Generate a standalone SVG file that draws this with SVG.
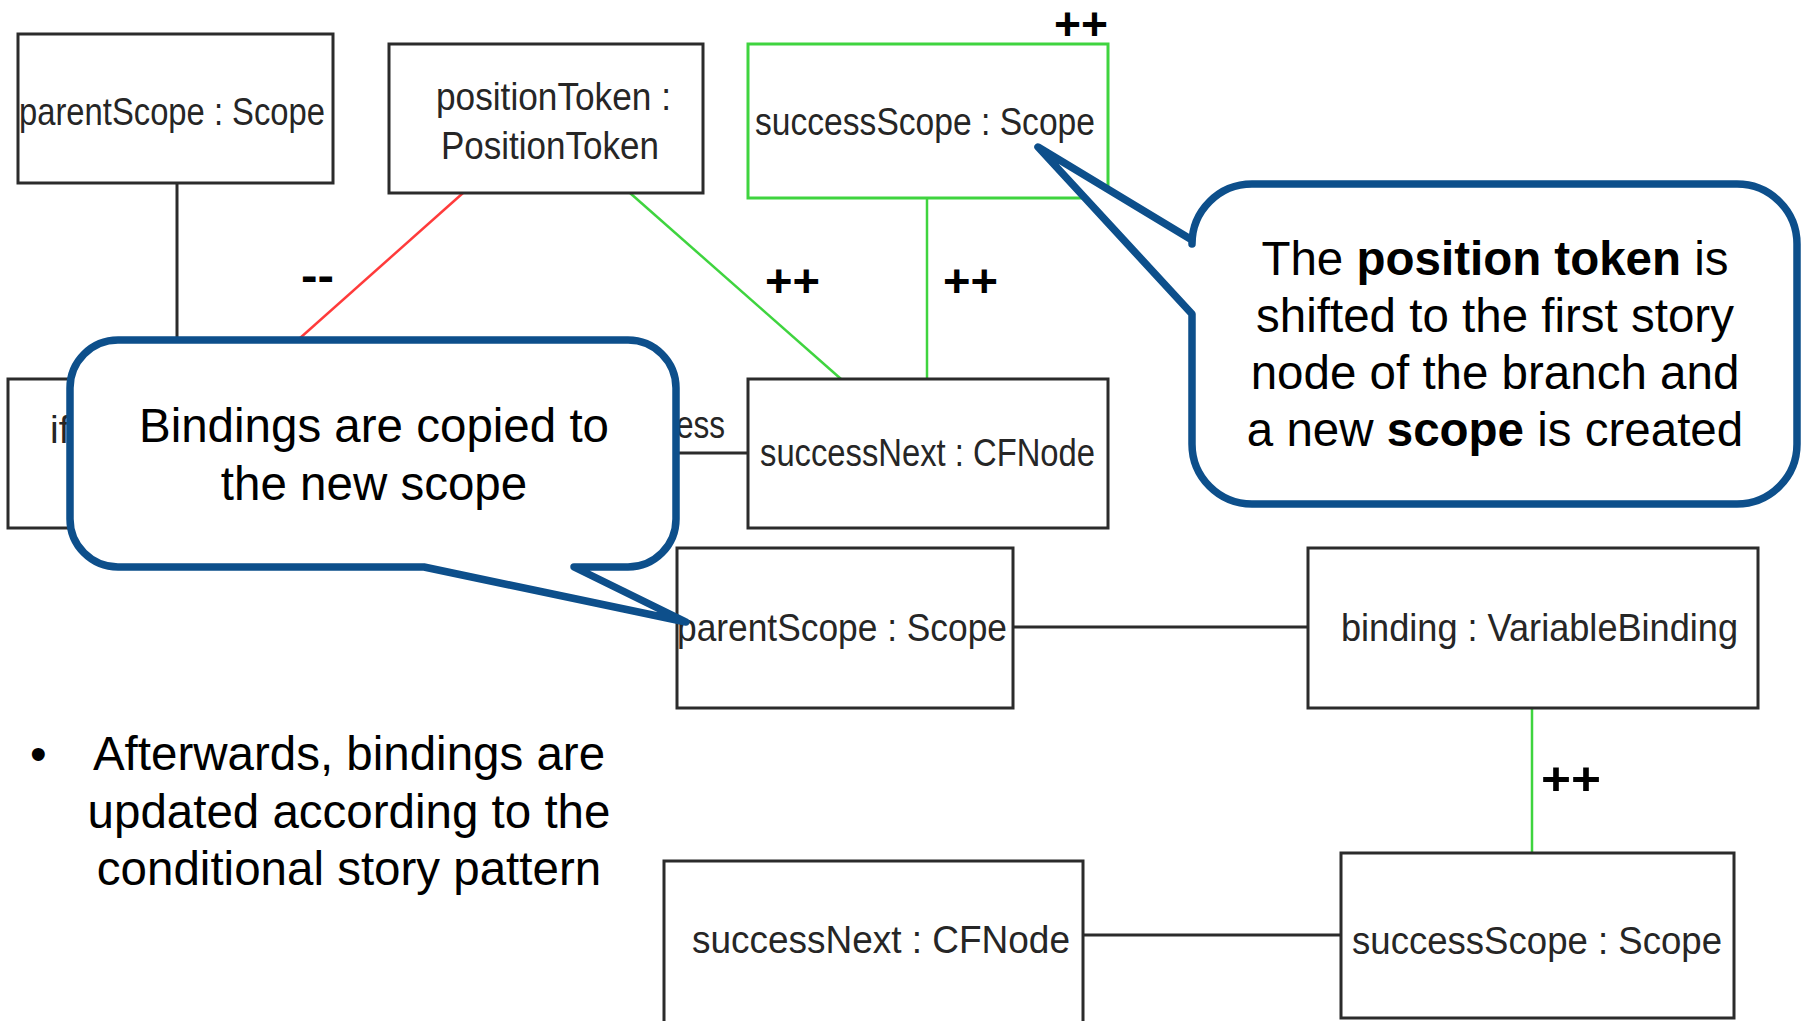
<svg xmlns="http://www.w3.org/2000/svg" width="1803" height="1021" viewBox="0 0 1803 1021">
<style>
.box{fill:#fff;stroke:#2b2b2b;stroke-width:3}
.gbox{fill:#fff;stroke:#3fd43f;stroke-width:3}
.nt{font-family:"Liberation Sans",Arial,sans-serif;font-size:39px;fill:#262626}
.blk{stroke:#2b2b2b;stroke-width:3;fill:none}
.grn{stroke:#3fd43f;stroke-width:2.5;fill:none}
.red{stroke:#ff3b3b;stroke-width:2.5;fill:none}
.mk{font-family:"Liberation Sans",Arial,sans-serif;font-size:46px;font-weight:bold;fill:#000}
.call{fill:#fff;stroke:#0d4f8b;stroke-width:7.5;stroke-linejoin:round}
.ct{font-family:"Liberation Sans",Arial,sans-serif;font-size:47.5px;fill:#000;text-anchor:middle}
</style>
<rect width="1803" height="1021" fill="#fff"/>
<g id="connectors">
<line class="blk" x1="177" y1="183" x2="177" y2="379"/>
<line class="red" x1="463" y1="193" x2="254" y2="379"/>
<line class="grn" x1="630" y1="193" x2="841" y2="379"/>
<line class="grn" x1="927" y1="198" x2="927" y2="379"/>
<line class="blk" x1="333" y1="453" x2="748" y2="453"/>
<line class="blk" x1="1013" y1="627" x2="1308" y2="627"/>
<line class="grn" x1="1532" y1="708" x2="1532" y2="853"/>
<line class="blk" x1="1083" y1="935" x2="1341" y2="935"/>
<text class="nt" x="725" y="438" text-anchor="end" textLength="114" lengthAdjust="spacingAndGlyphs">success</text>
<text class="mk" x="301" y="291" font-size="42" textLength="33" lengthAdjust="spacingAndGlyphs">--</text>
<text class="mk" x="765" y="297" textLength="55" lengthAdjust="spacingAndGlyphs">++</text>
<text class="mk" x="943" y="297" textLength="55" lengthAdjust="spacingAndGlyphs">++</text>
<text class="mk" x="1054" y="40" font-size="44" textLength="54" lengthAdjust="spacingAndGlyphs">++</text>
<text class="mk" x="1541" y="795" textLength="60" lengthAdjust="spacingAndGlyphs">++</text>
</g>
<g id="parentScope1">
<rect class="box" x="18" y="34" width="315" height="149"/>
<text class="nt" x="19" y="125" textLength="306" lengthAdjust="spacingAndGlyphs">parentScope : Scope</text>
</g>
<g id="positionToken">
<rect class="box" x="389" y="44" width="314" height="149"/>
<text class="nt" x="436" y="110" textLength="235" lengthAdjust="spacingAndGlyphs">positionToken :</text>
<text class="nt" x="441" y="159" textLength="218" lengthAdjust="spacingAndGlyphs">PositionToken</text>
</g>
<g id="successScope1">
<rect class="gbox" x="748" y="44" width="360" height="154"/>
<text class="nt" x="755" y="135" textLength="340" lengthAdjust="spacingAndGlyphs">successScope : Scope</text>
</g>
<g id="ifNode">
<rect class="box" x="8" y="379" width="325" height="149"/>
<text class="nt" x="50" y="443">if</text>
</g>
<g id="successNext1">
<rect class="box" x="748" y="379" width="360" height="149"/>
<text class="nt" x="760" y="466" textLength="335" lengthAdjust="spacingAndGlyphs">successNext : CFNode</text>
</g>
<g id="parentScope2">
<rect class="box" x="677" y="548" width="336" height="160"/>
<text class="nt" x="677" y="641" textLength="330" lengthAdjust="spacingAndGlyphs">parentScope : Scope</text>
</g>
<g id="binding">
<rect class="box" x="1308" y="548" width="450" height="160"/>
<text class="nt" x="1341" y="641" textLength="397" lengthAdjust="spacingAndGlyphs">binding : VariableBinding</text>
</g>
<g id="successNext2">
<rect class="box" x="664" y="861" width="419" height="175"/>
<text class="nt" x="692" y="953" textLength="378" lengthAdjust="spacingAndGlyphs">successNext : CFNode</text>
</g>
<g id="successScope2">
<rect class="box" x="1341" y="853" width="393" height="165"/>
<text class="nt" x="1352" y="954" textLength="370" lengthAdjust="spacingAndGlyphs">successScope : Scope</text>
</g>
<g id="callout-right">
<path class="call" d="M1252,184 H1737 A60,60 0 0 1 1797,244 V444 A60,60 0 0 1 1737,504 H1252 A60,60 0 0 1 1192,444 V314 L1038,147 L1192,240 V244 A60,60 0 0 1 1252,184 Z"/>
<text class="ct" x="1495" y="275">The <tspan font-weight="bold">position token</tspan> is</text>
<text class="ct" x="1495" y="332">shifted to the first story</text>
<text class="ct" x="1495" y="389">node of the branch and</text>
<text class="ct" x="1495" y="446">a new <tspan font-weight="bold">scope</tspan> is created</text>
</g>
<g id="callout-left">
<path class="call" d="M118,340 H628 A48,48 0 0 1 676,388 V519 A48,48 0 0 1 628,567 H574 L686,622 L424,567 H118 A48,48 0 0 1 70,519 V388 A48,48 0 0 1 118,340 Z"/>
<text class="ct" x="374" y="442">Bindings are copied to</text>
<text class="ct" x="374" y="500">the new scope</text>
</g>
<g id="bullet">
<text class="ct" x="30" y="770" style="text-anchor:start">•</text>
<text class="ct" x="349" y="770">Afterwards, bindings are</text>
<text class="ct" x="349" y="828">updated according to the</text>
<text class="ct" x="349" y="885">conditional story pattern</text>
</g>
</svg>
